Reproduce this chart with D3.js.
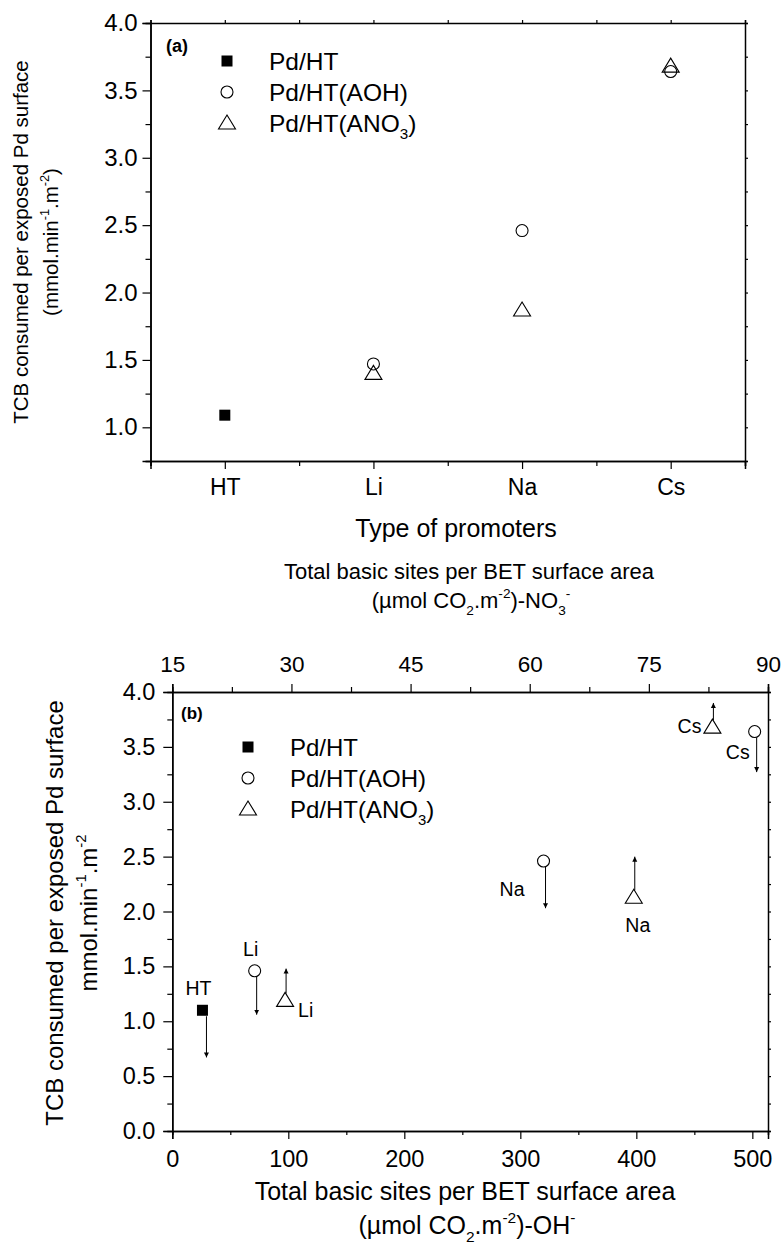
<!DOCTYPE html>
<html>
<head>
<meta charset="utf-8">
<script src="https://cdn.jsdelivr.net/npm/d3@7"></script>
<style>
  body { margin: 0; background: #fff; }
  svg { display: block; font-family: Arial, 'Liberation Sans', sans-serif; }
  .domain { stroke-width: 1.5; }
  .tick line { stroke-width: 1.2; }
</style>
</head>
<body>
<script>
const width = 784;
const height = 1249;

// panel (a): TCB consumed vs type of promoter
const promoters = ['HT', 'Li', 'Na', 'Cs'];
const rateHT_a = [1.09];
const rateAOH_a = [null, 1.47, 2.46, 3.64];
const rateANO3_a = [null, 1.40, 1.87, 3.68];

// panel (b): TCB consumed vs basic sites
const sitesHT = [26];                 // OH- scale (bottom axis)
const rateHT_b = [1.10];
const arrowHT = [0.67];
const labelHT = ['HT'];
const placeHT = ['above'];

const sitesAOH = [71, 320, 502];      // OH- scale (bottom axis)
const rateAOH_b = [1.46, 2.46, 3.64];
const arrowAOH = [1.06, 2.03, 3.27];
const labelAOH = ['Li', 'Na', 'Cs'];
const placeAOH = ['above', 'lowerLeft', 'underLeft'];

const sitesANO3 = [29.2, 73.1, 83.0]; // NO3- scale (top axis)
const rateANO3_b = [1.19, 2.13, 3.68];
const arrowANO3 = [1.48, 2.50, 3.90];
const labelANO3 = ['Li', 'Na', 'Cs'];
const placeANO3 = ['right', 'below', 'left'];

const legendItems = [
  { shape: 'square', text: [['Pd/HT', 'n']] },
  { shape: 'circle', text: [['Pd/HT(AOH)', 'n']] },
  { shape: 'triangle', text: [['Pd/HT(ANO', 'n'], ['3', 'sub'], [')', 'n']] },
];

const places = {
  above: ['middle', -4, -15],
  right: ['start', 13, 17],
  lowerLeft: ['end', -19, 35],
  underLeft: ['end', -5, 27],
  below: ['middle', 4, 35],
  left: ['end', -11, 6],
};

const svg = d3.select('body').append('svg')
  .attr('width', width)
  .attr('height', height);
svg.append('rect').attr('width', width).attr('height', height).attr('fill', '#fff');

svg.append('defs').append('marker')
  .attr('id', 'head')
  .attr('viewBox', '0 0 10 10')
  .attr('refX', 10).attr('refY', 5)
  .attr('markerWidth', 5).attr('markerHeight', 8)
  .attr('markerUnits', 'userSpaceOnUse')
  .attr('orient', 'auto')
  .append('path').attr('d', 'M0,0L10,5L0,10Z').attr('fill', '#000');

function rich(text, parts, size) {
  let shift = 0;
  parts.forEach(([str, kind]) => {
    const target = kind === 'sup' ? -0.45 * size : kind === 'sub' ? 0.3 * size : 0;
    text.append('tspan')
      .attr('dy', target - shift)
      .attr('font-size', kind === 'n' ? size : size * 0.62)
      .text(str);
    shift = target;
  });
}

function marker(g, shape, x, y, s = 1) {
  if (shape === 'square') {
    g.append('rect').attr('x', x - 5.5 * s).attr('y', y - 5.5 * s)
      .attr('width', 11 * s).attr('height', 11 * s).attr('fill', '#000');
  } else if (shape === 'circle') {
    g.append('circle').attr('cx', x).attr('cy', y).attr('r', 6 * s)
      .attr('fill', 'none').attr('stroke', '#000').attr('stroke-width', 1.1);
  } else {
    g.append('path')
      .attr('d', `M${x},${y - 8 * s}L${x + 8.5 * s},${y + 6 * s}L${x - 8.5 * s},${y + 6 * s}Z`)
      .attr('fill', 'none').attr('stroke', '#000').attr('stroke-width', 1.1);
  }
}

function axis(g, gen, values, size, fmt, padding, font) {
  const a = gen.tickValues(values).tickSize(size).tickPadding(padding)
    .tickFormat(fmt || (() => ''));
  g.call(a);
  g.selectAll('text').attr('font-size', font || 22).attr('fill', '#000')
    .attr('font-family', 'Arial, Liberation Sans, sans-serif');
  g.selectAll('line, path').attr('stroke', '#000');
}

function legend(g, x, y0, step, size) {
  legendItems.forEach((d, i) => {
    const y = y0 + i * step;
    marker(g, d.shape, x, y);
    const t = g.append('text').attr('x', x + 42).attr('y', y + 9)
      .attr('font-size', size);
    rich(t, d.text, size);
  });
}

function title(x, y, parts, size, rotate) {
  const g = svg.append('g')
    .attr('transform', `translate(${x},${y}) rotate(${rotate || 0})`);
  const t = g.append('text').attr('text-anchor', 'middle').attr('font-size', size);
  rich(t, parts, size);
}

// ---------- panel (a)
const xA = d3.scaleLinear([0.5, 4.5], [150.5, 745]);
const yA = d3.scaleLinear([0.75, 4.0], [461, 23]);
const ga = svg.append('g');

axis(ga.append('g').attr('transform', `translate(0,${yA(0.75)})`), d3.axisBottom(xA),
  [1, 2, 3, 4], 8, i => promoters[i - 1], 10, 23);
axis(ga.append('g').attr('transform', `translate(0,${yA(0.75)})`), d3.axisBottom(xA),
  [0.5, 1.5, 2.5, 3.5, 4.5], 5);
axis(ga.append('g').attr('transform', `translate(${xA(0.5)},0)`), d3.axisLeft(yA),
  d3.range(1, 4.01, 0.5), 8, d3.format('.1f'), 5, 24);
axis(ga.append('g').attr('transform', `translate(${xA(0.5)},0)`), d3.axisLeft(yA),
  d3.range(0.75, 4, 0.5), 5);
axis(ga.append('g').attr('transform', `translate(0,${yA(4)})`), d3.axisTop(xA),
  d3.range(0.5, 4.51, 0.5), 3);
axis(ga.append('g').attr('transform', `translate(${xA(4.5)},0)`), d3.axisRight(yA),
  d3.range(0.75, 4.01, 0.25), 3);

rateHT_a.forEach((v, i) => marker(ga, 'square', xA(i + 1), yA(v)));
rateAOH_a.forEach((v, i) => { if (v != null) marker(ga, 'circle', xA(i + 1), yA(v)); });
rateANO3_a.forEach((v, i) => { if (v != null) marker(ga, 'triangle', xA(i + 1), yA(v)); });

ga.append('text').attr('x', 166).attr('y', 52).attr('font-size', 18)
  .attr('font-weight', 'bold').text('(a)');
legend(ga, 227, 61, 31, 24.5);

title(28, 242, [['TCB consumed per exposed Pd surface', 'n']], 20.5, -90);
title(58, 242, [['(mmol.min', 'n'], ['-1', 'sup'], ['.m', 'n'], ['-2', 'sup'], [')', 'n']], 20.5, -90);
title(456, 537, [['Type of promoters', 'n']], 25);

// ---------- panel (b)
const xB = d3.scaleLinear([0, 513.5], [172.3, 768]);
const xT = d3.scaleLinear([15, 90], [172.3, 768]);
const yB = d3.scaleLinear([0, 4], [1131, 692]);
const gb = svg.append('g');

axis(gb.append('g').attr('transform', `translate(0,${yB(0)})`), d3.axisBottom(xB),
  d3.range(0, 501, 100), 8, d3.format('d'), 11, 23.5);
axis(gb.append('g').attr('transform', `translate(0,${yB(0)})`), d3.axisBottom(xB),
  d3.range(50, 500, 100), 4);
axis(gb.append('g').attr('transform', `translate(0,${yB(4)})`), d3.axisTop(xT),
  d3.range(15, 91, 15), 8, d3.format('d'), 12, 22.5);
axis(gb.append('g').attr('transform', `translate(0,${yB(4)})`), d3.axisTop(xT),
  d3.range(22.5, 90, 15), 5);
axis(gb.append('g').attr('transform', `translate(${xB(0)},0)`), d3.axisLeft(yB),
  d3.range(0, 4.01, 0.5), 9, d3.format('.1f'), 8, 23.5);
axis(gb.append('g').attr('transform', `translate(${xB(0)},0)`), d3.axisLeft(yB),
  d3.range(0.25, 4, 0.5), 5);
axis(gb.append('g').attr('transform', `translate(${xT(90)},0)`), d3.axisRight(yB),
  d3.range(0, 4.01, 0.25), 3);

function series(shape, xs, scaleX, ys, ends, labels, placesOf, dx) {
  xs.forEach((xv, i) => {
    const x = scaleX(xv);
    const y = yB(ys[i]);
    const up = ends[i] > ys[i];
    gb.append('line')
      .attr('x1', x + dx).attr('x2', x + dx)
      .attr('y1', y + (up ? -7 : 6)).attr('y2', yB(ends[i]))
      .attr('stroke', '#000').attr('stroke-width', 1)
      .attr('marker-end', 'url(#head)');
    marker(gb, shape, x, y);
    const [anchor, ox, oy] = places[placesOf[i]];
    gb.append('text').attr('x', x + ox).attr('y', y + oy)
      .attr('text-anchor', anchor).attr('font-size', 19.5).text(labels[i]);
  });
}

series('square', sitesHT, xB, rateHT_b, arrowHT, labelHT, placeHT, 4);
series('circle', sitesAOH, xB, rateAOH_b, arrowAOH, labelAOH, placeAOH, 2);
series('triangle', sitesANO3, xT, rateANO3_b, arrowANO3, labelANO3, placeANO3, 1);

gb.append('text').attr('x', 181).attr('y', 719).attr('font-size', 17)
  .attr('font-weight', 'bold').text('(b)');
legend(gb, 248, 747, 31, 24);

title(63, 913, [['TCB consumed per exposed Pd surface', 'n']], 24, -90);
title(97, 913, [['mmol.min', 'n'], ['-1', 'sup'], ['.m', 'n'], ['-2', 'sup']], 24, -90);
title(465, 1200, [['Total basic sites per BET surface area', 'n']], 25);
title(467, 1234, [['(\u00b5mol CO', 'n'], ['2', 'sub'], ['.m', 'n'], ['-2', 'sup'], [')-OH', 'n'], ['-', 'sup']], 25);
title(469, 579, [['Total basic sites per BET surface area', 'n']], 22);
title(471, 608, [['(\u00b5mol CO', 'n'], ['2', 'sub'], ['.m', 'n'], ['-2', 'sup'], [')-NO', 'n'], ['3', 'sub'], ['-', 'sup']], 22);
</script>
</body>
</html>
